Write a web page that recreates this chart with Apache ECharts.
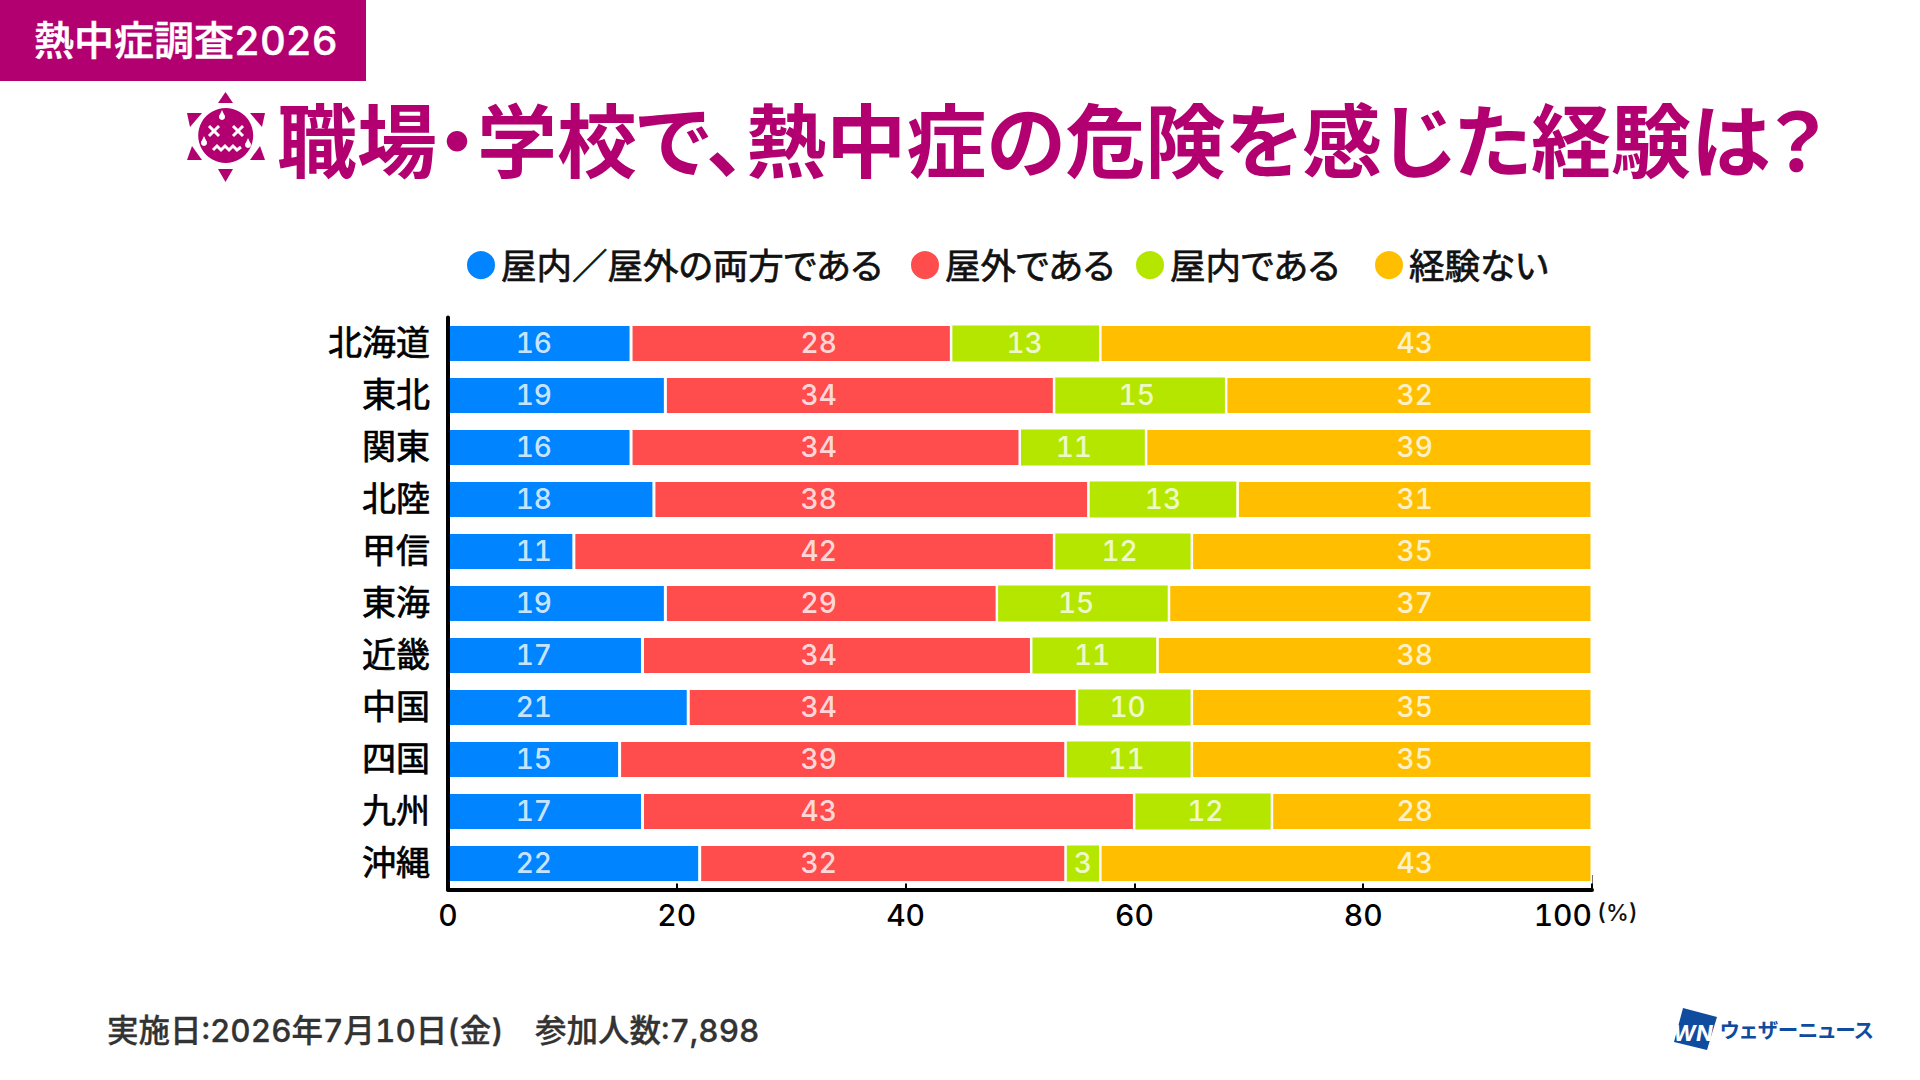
<!DOCTYPE html>
<html lang="ja"><head><meta charset="utf-8">
<style>html,body{margin:0;padding:0;background:#fff}#c{width:1920px;height:1080px}#c text{font-feature-settings:"palt","tnum"!important}</style>
<script src="https://cdn.jsdelivr.net/npm/echarts@6/dist/echarts.min.js"></script>
</head><body><div id="c"></div>
<script>
const categories=["北海道","東北","関東","北陸","甲信","東海","近畿","中国","四国","九州","沖縄"];
const bothValues=[16,19,16,18,11,19,17,21,15,17,22];
const outdoorValues=[28,34,34,38,42,29,34,34,39,43,32];
const indoorValues=[13,15,11,13,12,15,11,10,11,12,3];
const noneValues=[43,32,39,31,35,37,38,35,35,28,43];
const seriesNames=["屋内／屋外の両方である","屋外である","屋内である","経験ない"];
const xTicks=[0,20,40,60,80,100];
const tagText="熱中症調査2026";
const titleText="職場・学校で、熱中症の危険を感じた経験は？";
const footerText="実施日:2026年7月10日(金)　参加人数:7,898";
const logoText="ウェザーニュース";
const colors=["#0084FF","#FF4C4C","#B4E600","#FFBF00"];
const MAG="#B30071";
const CJK='"Noto Sans CJK JP","Noto Sans",sans-serif';
const NUM='Inter,"Noto Sans CJK JP",sans-serif';
const allValues=[bothValues,outdoorValues,indoorValues,noneValues];
const bothLabelAt=[7.5];
const outdoorLabelAt=[32.4];
const noneLabelAt=[84.5];
const indoorLabelAt=[50.4,60.2,54.7,62.5,58.7,54.9,56.3,59.4,59.3,66.2,55.5];
const labelAt=[bothLabelAt,outdoorLabelAt,indoorLabelAt,noneLabelAt];
const borders=[1.5,1.5,1,1.5];
const legendLeft=[465,909,1134,1373];

const bars=allValues.map((vals,i)=>({
  name:seriesNames[i],type:'bar',stack:'t',barWidth:38,data:vals,
  itemStyle:{color:colors[i],borderColor:'#fff',borderWidth:borders[i]},
  silent:true,animation:false
}));
const labelSeries=allValues.map((vals,i)=>({
  name:'label'+i,type:'scatter',symbolSize:0,z:5,animation:false,silent:true,
  data:vals.map((v,k)=>[labelAt[i].length>1?labelAt[i][k]:labelAt[i][0],categories[k],v]),
  label:{show:true,position:'inside',offset:[0,-1],color:'#fff',fontFamily:NUM,fontSize:28,fontWeight:500,formatter:p=>p.value[2]}
}));

const tri=(pts)=>({type:'polygon',shape:{points:pts},style:{fill:MAG}});
const cross=(x,y)=>[
 {type:'line',shape:{x1:x-5,y1:y-5,x2:x+5,y2:y+5},style:{stroke:'#fff',lineWidth:3}},
 {type:'line',shape:{x1:x-5,y1:y+5,x2:x+5,y2:y-5},style:{stroke:'#fff',lineWidth:3}}];
const drop=(x,y)=>[
 {type:'circle',shape:{cx:x,cy:y+2,r:3},style:{fill:'#fff'}},
 {type:'polygon',shape:{points:[[x,y-5],[x-2.8,y+1],[x+2.8,y+1]]},style:{fill:'#fff'}}];
const graphics=[
 {type:'rect',shape:{x:0,y:0,width:366,height:81},style:{fill:MAG}},
 {type:'text',x:34,y:40,style:{text:tagText,fill:'#fff',stroke:'#fff',lineWidth:0.5,font:'500 40px '+NUM,textVerticalAlign:'middle'}},
 {type:'text',x:277,y:136,style:{text:titleText,fill:MAG,font:'700 80px '+CJK,textVerticalAlign:'middle'}},
 {type:'text',x:107,y:1030,style:{text:footerText,fill:'#333',stroke:'#333',lineWidth:0.3,font:'500 31.5px '+NUM,textVerticalAlign:'middle'}},
 {type:'text',x:1597,y:913,style:{text:'(%)',fill:'#111',font:'500 23px '+NUM,textVerticalAlign:'middle'}},
 {type:'line',shape:{x1:1592.5,y1:875,x2:1592.5,y2:888},style:{stroke:'#777',lineWidth:1}},
 tri([[218,103],[233,103],[225.5,92]]),
 tri([[218,169],[233,169],[225.5,182]]),
 tri([[187,113],[202,113],[190,127]]),
 tri([[250,113],[265,113],[262,127]]),
 tri([[187,160],[202,160],[192,146]]),
 tri([[250,160],[265,160],[260,146]]),
 {type:'circle',shape:{cx:225.7,cy:135.5,r:27.5},style:{fill:MAG}},
 ...cross(214,131),...cross(238,131),
 ...drop(222,115),...drop(204,141),...drop(248,143),
 {type:'polyline',shape:{points:[[213,150],[217,146],[221,150],[225,146],[229,150],[233,146],[237,150],[241,147]]},style:{stroke:'#fff',lineWidth:3,fill:null}},
 {type:'polygon',shape:{points:[[1683,1008],[1717,1017],[1707,1050],[1674,1042]]},style:{fill:'#0F4C9F'}},
 {type:'text',x:1696,y:1033,style:{text:'WNI',fill:'#fff',font:'italic 700 22px '+NUM,textAlign:'center',textVerticalAlign:'middle'}},
 {type:'text',x:1720,y:1029,style:{text:logoText,fill:'#0F4C9F',font:'700 20.5px '+CJK,textVerticalAlign:'middle'}}
];
const option={
  animation:false,backgroundColor:'#fff',
  grid:{left:448,top:317.5,width:1144,height:572,containLabel:false},
  legend:seriesNames.map((n,i)=>({data:[n],left:legendLeft[i],top:245,padding:0,icon:'circle',itemWidth:30,itemHeight:30,
    formatter:'{t|{name}}',
    textStyle:{rich:{t:{fontFamily:CJK,fontSize:35.5,color:'#111',textBorderColor:'#111',textBorderWidth:0.7,padding:[0,0,4,0]}}},selectedMode:false})),
  xAxis:{type:'value',min:0,max:100,interval:20,z:10,
    axisLine:{show:true,lineStyle:{color:'#000',width:4}},
    axisTick:{show:true,inside:true,length:6,lineStyle:{color:'#000',width:2}},
    splitLine:{show:false},
    axisLabel:{margin:10,color:'#000',fontFamily:NUM,fontSize:30,fontWeight:500,alignMaxLabel:'right',customValues:xTicks},
  },
  yAxis:{type:'category',inverse:true,data:categories,z:10,
    axisLine:{show:true,lineStyle:{color:'#000',width:4}},axisTick:{show:false},
    axisLabel:{margin:18,color:'#000',fontFamily:CJK,fontSize:34,textBorderColor:'#000',textBorderWidth:0.7,verticalAlign:'bottom',lineHeight:7}},
  series:[...bars,...labelSeries],
  graphic:{elements:graphics}
};
const chart=echarts.init(document.getElementById('c'),null,{renderer:'svg',width:1920,height:1080});
chart.setOption(option);
</script></body></html>
